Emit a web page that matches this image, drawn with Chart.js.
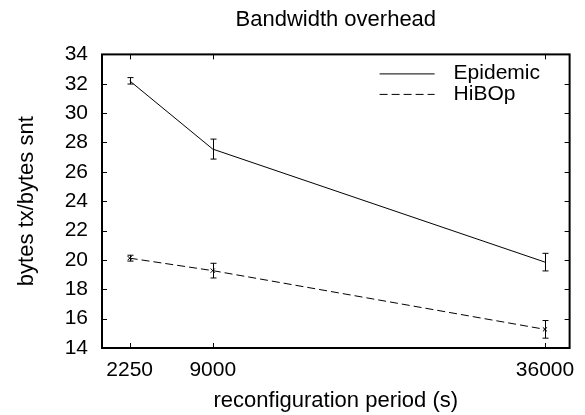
<!DOCTYPE html>
<html lang="en">
<head>
    <meta charset="UTF-8">
    <title>Bandwidth overhead</title>
    <script src="https://cdn.jsdelivr.net/npm/chart.js"></script>
    <style>
        body {
            margin: 0;
            background: #fff;
        }
        #wrap {
            width: 585px;
            height: 415px;
        }
    </style>
</head>
<body>
    <div id="wrap"><canvas id="overheadChart" width="585" height="415"></canvas></div>

    <script>
        // values
        const periods = [2250, 9000, 36000];
        const epidemic = [32.2, 27.55, 19.85];
        const epidemicErr = [0.22, 0.68, 0.6];
        const hibop = [20.12, 19.27, 15.27];
        const hibopErr = [0.2, 0.5, 0.6];
        const yTicks = [14, 16, 18, 20, 22, 24, 26, 28, 30, 32, 34];

        const FONT = 'Liberation Sans, Arial, Helvetica, sans-serif';

        // frame round the plot with inward tick marks on all four sides
        const framePlugin = {
            id: 'frame',
            afterDraw(chart) {
                const { ctx, chartArea: a, scales } = chart;
                ctx.save();
                ctx.strokeStyle = '#000';
                ctx.lineWidth = 1;
                ctx.beginPath();
                periods.forEach(v => {
                    const x = Math.round(scales.x.getPixelForValue(v)) + 0.5;
                    ctx.moveTo(x, a.bottom); ctx.lineTo(x, a.bottom - 5);
                    ctx.moveTo(x, a.top); ctx.lineTo(x, a.top + 5);
                });
                yTicks.forEach(v => {
                    const y = Math.round(scales.y.getPixelForValue(v)) + 0.5;
                    ctx.moveTo(a.left, y); ctx.lineTo(a.left + 5, y);
                    ctx.moveTo(a.right, y); ctx.lineTo(a.right - 5, y);
                });
                ctx.stroke();
                ctx.lineWidth = 2;
                ctx.strokeRect(a.left, a.top, a.right - a.left, a.bottom - a.top);
                ctx.restore();
            }
        };

        // vertical error bars with small caps
        const errorBarPlugin = {
            id: 'errorBars',
            afterDatasetsDraw(chart) {
                const { ctx, scales } = chart;
                ctx.save();
                ctx.strokeStyle = '#000';
                ctx.lineWidth = 1;
                ctx.setLineDash([]);
                chart.data.datasets.forEach(ds => {
                    ds.data.forEach((p, i) => {
                        const e = ds.errors[i];
                        const x = Math.round(scales.x.getPixelForValue(p.x)) + 0.5;
                        const yHi = scales.y.getPixelForValue(p.y + e);
                        const yLo = scales.y.getPixelForValue(p.y - e);
                        ctx.beginPath();
                        ctx.moveTo(x, yHi); ctx.lineTo(x, yLo);
                        ctx.moveTo(x - 3, yHi); ctx.lineTo(x + 3, yHi);
                        ctx.moveTo(x - 3, yLo); ctx.lineTo(x + 3, yLo);
                        ctx.stroke();
                    });
                });
                ctx.restore();
            }
        };

        // legend in the upper right corner of the plot (gnuplot style)
        const cornerLegend = {
            id: 'cornerLegend',
            afterDraw(chart) {
                const { ctx, chartArea: a } = chart;
                ctx.save();
                ctx.font = '21px ' + FONT;
                ctx.fillStyle = '#000';
                ctx.textBaseline = 'middle';
                chart.data.datasets.forEach((ds, i) => {
                    const y = a.top + 19 + i * 20.5;
                    ctx.strokeStyle = '#000';
                    ctx.lineWidth = 1;
                    ctx.setLineDash(ds.borderDash || []);
                    ctx.beginPath();
                    ctx.moveTo(a.right - 190, y + 0.5);
                    ctx.lineTo(a.right - 135, y + 0.5);
                    ctx.stroke();
                    ctx.fillText(ds.label, a.right - 116, y);
                });
                ctx.restore();
            }
        };

        const ctx = document.getElementById('overheadChart').getContext('2d');
        const overheadChart = new Chart(ctx, {
            type: 'line',
            data: {
                datasets: [{
                    label: 'Epidemic',
                    data: periods.map((p, i) => ({ x: p, y: epidemic[i] })),
                    errors: epidemicErr,
                    borderColor: '#000',
                    borderWidth: 1,
                    pointRadius: 0,
                    fill: false
                }, {
                    label: 'HiBOp',
                    data: periods.map((p, i) => ({ x: p, y: hibop[i] })),
                    errors: hibopErr,
                    borderColor: '#000',
                    borderWidth: 1,
                    borderDash: [8, 4],
                    pointStyle: 'crossRot',
                    pointRadius: 3,
                    pointBorderColor: '#000',
                    pointBorderWidth: 1,
                    fill: false
                }]
            },
            options: {
                responsive: false,
                animation: false,
                layout: { padding: { left: 0, right: 10, top: 0, bottom: 0 } },
                plugins: {
                    legend: { display: false },
                    tooltip: { enabled: false },
                    title: {
                        display: true,
                        fullSize: false,
                        text: 'Bandwidth overhead',
                        color: '#000',
                        font: { family: FONT, size: 22, weight: 'normal' },
                        padding: { top: 7, bottom: 21 }
                    }
                },
                scales: {
                    x: {
                        type: 'linear',
                        min: 0,
                        max: 38000,
                        grid: { display: false, drawTicks: false },
                        border: { display: false },
                        afterBuildTicks: s => { s.ticks = periods.map(v => ({ value: v })); },
                        afterFit: s => { s.height = 67; },
                        ticks: {
                            color: '#000',
                            padding: 10,
                            maxRotation: 0,
                            font: { family: FONT, size: 21 },
                            callback: v => String(v)
                        },
                        title: {
                            display: true,
                            text: 'reconfiguration period (s)',
                            color: '#000',
                            font: { family: FONT, size: 22 },
                            padding: { top: 0, bottom: 1 }
                        }
                    },
                    y: {
                        min: 14,
                        max: 34,
                        grid: { display: false, drawTicks: false },
                        border: { display: false },
                        afterBuildTicks: s => { s.ticks = yTicks.map(v => ({ value: v })); },
                        afterFit: s => { s.width = 102; },
                        ticks: {
                            color: '#000',
                            padding: 14,
                            font: { family: FONT, size: 21 }
                        },
                        title: {
                            display: true,
                            text: 'bytes tx/bytes snt',
                            color: '#000',
                            font: { family: FONT, size: 22 },
                            padding: { top: 14, bottom: 0 }
                        }
                    }
                }
            },
            plugins: [errorBarPlugin, framePlugin, cornerLegend]
        });
    </script>
</body>
</html>
